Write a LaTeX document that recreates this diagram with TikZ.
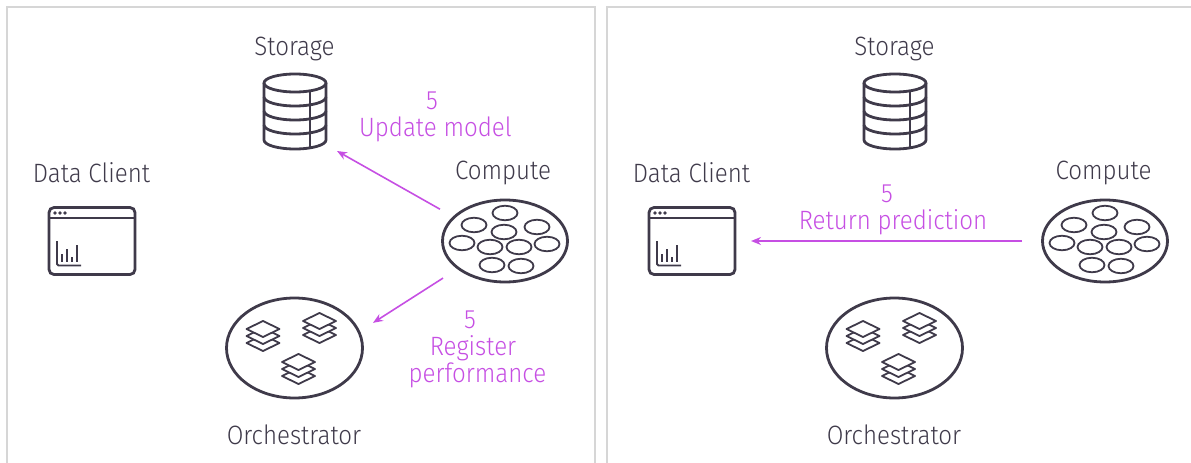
\documentclass[tikz,border=0pt]{standalone}
\usepackage{fontspec}
\setmainfont{Fira Sans}[UprightFont=* Light,FakeStretch=0.91]
\usetikzlibrary{arrows.meta,shapes.geometric}
\definecolor{ink}{HTML}{3F3A4A}
\definecolor{vio}{HTML}{C64FE3}
\definecolor{frame}{HTML}{D6D6D6}
\tikzset{
  x=1pt,y=-1pt,
  panel/.style={draw=frame,line width=1.8pt},
  lab/.style={text=ink,font=\fontsize{26.5}{27}\selectfont,inner sep=0pt},
  note/.style={text=vio,font=\fontsize{26.5}{27}\selectfont,inner sep=0pt,align=center},
  conn/.style={draw=vio,line width=1.6pt,-{Stealth[length=10pt,width=8pt]}},
  hit/.style={rectangle,inner sep=0pt,outer sep=0pt},
  icon/.style={draw=ink,line width=2.8pt},
  thin/.style={draw=ink,line width=1.8pt},
  cell/.style={ellipse,draw=ink,line width=1.8pt,minimum width=25pt,minimum height=14.5pt,inner sep=0pt},
  pics/db/.style={code={
    \draw[icon] (0,-29) ellipse[x radius=31,y radius=9];
    \draw[icon] (-31,-29) -- (-31,28) arc[start angle=180,end angle=0,x radius=31,y radius=9] -- (31,-29);
    \draw[icon] (-31,-15) arc[start angle=180,end angle=0,x radius=31,y radius=9];
    \draw[icon] (-31,-1) arc[start angle=180,end angle=0,x radius=31,y radius=9];
    \draw[icon] (-31,13) arc[start angle=180,end angle=0,x radius=31,y radius=9];
    \draw[thin] (15,-21) -- (15,36);
  }},
  pics/win/.style={code={
    \draw[icon,rounded corners=5pt] (-43,-33.5) rectangle (43,33.5);
    \draw[icon] (-43,-23) -- (43,-23);
    \fill[ink] (-37,-28) circle(1.9) (-32,-28) circle(1.9) (-27,-28) circle(1.9);
    \draw[thin,rounded corners=1.5pt] (-35,0) -- (-35,24.5) -- (-11,24.5);
    \draw[thin] (-30,20.7) -- (-30,13) (-25,20.7) -- (-25,8) (-20,20.7) -- (-20,15.7) (-15,20.7) -- (-15,4);
  }},
  pics/cpu/.style={code={
    \draw[icon] (0,0) ellipse[x radius=62.5,y radius=41];
    \foreach \cx/\cy in {0/-28,-31/-16,32/-14,-1/-9,-43/2,-15/6,14/6,42/3,-13/24,16/25}
      \node[cell] at (\cx,\cy) {};
  }},
  pics/stack/.style={code={
    \foreach \dy in {14,7,0}{
      \filldraw[fill=white,draw=ink,line width=1.8pt,line join=round] (-16.5,\dy) -- (0,-8+\dy) -- (16.5,\dy) -- (0,8+\dy) -- cycle;
    }
  }},
  pics/orch/.style={code={
    \draw[icon] (0,0) ellipse[x radius=68,y radius=50];
    \pic at (-31.5,-19) {stack};
    \pic at (25,-27) {stack};
    \pic at (4,14) {stack};
  }},
}
\begin{document}
\begin{tikzpicture}
\useasboundingbox (0,0) rectangle (1191,463);
% panels
\path[panel,draw] (7,463) -- (7,7) -- (595,7) -- (595,463);
\path[panel,draw] (607,463) -- (607,7) -- (1191,7);
% left panel
\node[lab] (tS1) at (294.5,49) {Storage};
\node[lab] (tC1) at (91.5,173) {Data Client};
\node[lab] (tP1) at (503,173) {Compute};
\node[lab] (tO1) at (294,435) {Orchestrator};
\pic at (295,112) {db};
\pic at (92,241) {win};
\pic at (505,241) {cpu};
\pic at (294.5,348) {orch};
\node[hit,minimum width=84pt,minimum height=84pt] (s1) at (295,109) {};
\node[hit,minimum width=132pt,minimum height=88pt] (p1) at (506,240) {};
\node[hit,minimum width=158pt,minimum height=108pt] (o1) at (294,347) {};
\draw[conn] (p1.155.6) -- (s1.south east);
\draw[conn] ([xshift=3pt]p1.210) -- (o1.17);
\node[note] (n1) at (435.5,117) {\hspace*{-7pt}5\\Update model};
\node[note] (n2) at (477.5,349.5) {\hspace*{-15pt}5\\\hspace*{-9pt}Register\\performance};
% right panel
\node[lab] (tS2) at (894.5,49) {Storage};
\node[lab] (tC2) at (691.5,173) {Data Client};
\node[lab] (tP2) at (1103.5,173) {Compute};
\node[lab] (tO2) at (894,435) {Orchestrator};
\pic at (895,112) {db};
\pic at (692,241) {win};
\pic at (1105,241) {cpu};
\pic at (894.5,348) {orch};
\node[hit,minimum width=118pt,minimum height=70pt] (c2) at (692,241) {};
\node[hit,minimum width=166pt,minimum height=88pt] (p2) at (1105,241) {};
\draw[conn] (p2.west) -- (c2.east);
\node[note] (n3) at (893,210) {\hspace*{-12pt}5\\Return prediction};
\end{tikzpicture}
\end{document}
